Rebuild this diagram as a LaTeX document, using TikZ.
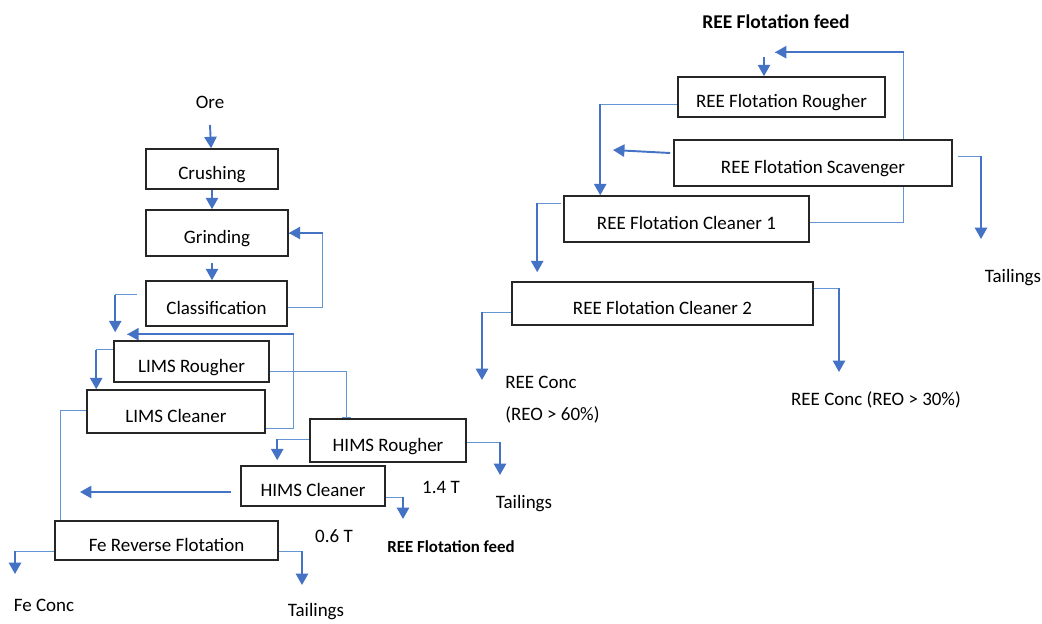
\documentclass[tikz,border=0pt]{standalone}
\usepackage{fontspec}
\setmainfont{Carlito}
\usetikzlibrary{arrows.meta,backgrounds}
\definecolor{flowblue}{RGB}{68,114,196}
\definecolor{leadblue}{RGB}{100,150,212}

\newcommand{\diagfont}{\fontsize{10.8}{13}\selectfont}
% thin lead to the corner, then the thick arrow down to the target
\newcommand{\tapflow}[2]{\draw[lead] (#1) -- (#1 -| #2); \draw[flow] (#1 -| #2) -- (#2);}

\tikzset{
  box/.style 2 args={draw=black!85, line width=0.9pt, fill=white,
    minimum width=#1*0.02cm, minimum height=#2*0.02cm,
    text height=1.2em, text depth=0pt, inner sep=0pt},
  lbl/.style={inner sep=0pt},
  flow/.style={flowblue, line width=1.1pt, -{Triangle[width=7pt,length=6.5pt]}},
  lead/.style={leadblue, line width=0.55pt}
}

\begin{document}
\begin{tikzpicture}[x=0.02cm, y=-0.02cm, font=\diagfont]
    \useasboundingbox (0,0) rectangle (1042,623);

    % Iron circuit
    \node[box={132}{40}] (crush) at (212,169) {Crushing};
    \node[box={142}{46}] (grind) at (217,233) {Grinding};
    \node[box={141}{45}] (classif) at (216.5,303.5) {Classification};
    \node[box={155}{41}] (limsR) at (191.5,361.5) {LIMS Rougher};
    \node[box={178}{43}] (limsC) at (176,411.5) {LIMS Cleaner};
    \node[box={156}{43}] (himsR) at (388,440.5) {HIMS Rougher};
    \node[box={144}{40}] (himsC) at (313,486) {HIMS Cleaner};
    \node[box={223}{39}] (feRev) at (166.5,540.5) {Fe Reverse Flotation};

    % REE circuit
    \node[box={207}{40}] (reeR) at (781.5,97) {REE Flotation Rougher};
    \node[box={278}{46}] (reeS) at (813,163) {REE Flotation Scavenger};
    \node[box={245}{46}] (reeC1) at (686.5,219) {REE Flotation Cleaner 1};
    \node[box={301}{43}] (reeC2) at (662.5,303.5) {REE Flotation Cleaner 2};

    % Streams in and out
    \node[lbl, anchor=base] (ore) at (210,108) {Ore};
    \node[lbl, anchor=base] (feConc) at (44,611) {Fe Conc};
    \node[lbl, anchor=base] (tailFe) at (316,616) {Tailings};
    \node[lbl, anchor=base] (fieldLow) at (334,542) {0.6 T};
    \node[lbl, anchor=base] (fieldHigh) at (441,493) {1.4 T};
    \node[lbl, anchor=base, font=\fontsize{9.6}{11}\selectfont\bfseries] (feedOut) at (451,552) {REE Flotation feed};
    \node[lbl, anchor=base] (tailHims) at (524,508) {Tailings};
    \node[lbl, anchor=base, font=\fontsize{11.1}{13}\selectfont\bfseries] (feedIn) at (776,28) {REE Flotation feed};
    \node[lbl, anchor=base] (tailRee) at (1013,282) {Tailings};
    \node[lbl, anchor=base west] (conc60) at (505,388) {REE Conc};
    \node[lbl, anchor=base west] (conc60b) at (505,420) {(REO > 60\%)};
    \node[lbl, anchor=base] (conc30) at (876,405) {REE Conc (REO > 30\%)};

    % Tap points and arrow ends
    \coordinate (grindOut) at ([yshift=-0.12cm]grind.south);
    \coordinate (clsR) at ([shift={(0,3.5)}]classif.east);
    \coordinate (clsL) at ([shift={(-8,-9)}]classif.west);
    \coordinate (limsRin) at ([shift={(2,-8)}]limsR.north west);
    \coordinate (limsCr) at ([shift={(0,17)}]limsC.east);
    \coordinate (limsRrec) at ([shift={(14,-6)}]limsR.north west);
    \coordinate (limsRl) at ([shift={(0,-12)}]limsR.west);
    \coordinate (limsCin) at ([shift={(10,0)}]limsC.north west);
    \coordinate (limsRr) at ([shift={(0,9.5)}]limsR.east);
    \coordinate (himsRin) at ([shift={(37,0)}]himsR.north west);
    \coordinate (limsCl) at ([shift={(0,-1.5)}]limsC.west);
    \coordinate (feIn) at ([shift={(6,0)}]feRev.north west);
    \coordinate (himsRl) at ([shift={(0,-1.5)}]himsR.west);
    \coordinate (himsCin) at ([shift={(37,-5)}]himsC.north west);
    \coordinate (himsRr) at ([shift={(0,1.5)}]himsR.east);
    \coordinate (tailHimsIn) at ([shift={(-24,-33)}]tailHims.base);
    \coordinate (himsCr) at ([shift={(0,11)}]himsC.east);
    \coordinate (feedOutIn) at ([shift={(-48,-33)}]feedOut.base);
    \coordinate (himsCl) at ([shift={(-9,6)}]himsC.west);
    \coordinate (feMix) at (80,492);
    \coordinate (feL) at ([shift={(0,10.5)}]feRev.west);
    \coordinate (feConcIn) at ([shift={(-29,-37)}]feConc.base);
    \coordinate (feR) at ([shift={(0,10.5)}]feRev.east);
    \coordinate (tailFeIn) at ([shift={(-14,-31)}]tailFe.base);

    \coordinate (reeFeedOut) at ([shift={(-12,29)}]feedIn.base);
    \coordinate (reeC1r) at ([shift={(0,3)}]reeC1.east);
    \coordinate (reeRrec) at ([shift={(-6.5,-24)}]reeR.north);
    \coordinate (reeSr) at ([shift={(5,-7)}]reeS.east);
    \coordinate (tailReeIn) at ([shift={(-32,-43)}]tailRee.base);
    \coordinate (reeSl) at ([shift={(-3,-10)}]reeS.west);
    \coordinate (reeSback) at (613,150);
    \coordinate (reeRl) at ([shift={(0,7)}]reeR.west);
    \coordinate (reeC1in) at ([shift={(37,0)}]reeC1.north west);
    \coordinate (reeC1l) at ([shift={(-2,-16)}]reeC1.west);
    \coordinate (reeC2in) at ([shift={(26,-9)}]reeC2.north west);
    \coordinate (reeC2l) at ([shift={(0,8.5)}]reeC2.west);
    \coordinate (conc60In) at ([shift={(-23,-8)}]conc60.base west);
    \coordinate (reeC2r) at ([shift={(0,-15.5)}]reeC2.east);
    \coordinate (conc30In) at ([shift={(-37,-33)}]conc30.base);

    \begin{scope}[on background layer]
    % Iron circuit streams
    \draw[flow] ([yshift=-0.34cm]ore.base) -- (crush);
    \draw[flow] (crush.south) -- (crush.south |- grind.north);
    \draw[flow] (grindOut -| crush.south) -- (crush.south |- classif.north);
    \draw[lead] (clsR) -- ++(35,0) coordinate (k1) |- (grind.east);
    \draw[flow] (k1 |- grind.east) -- (grind.east);
    \tapflow{clsL}{limsRin}
    \draw[lead] (limsCr) -- ++(28,0) coordinate (k2) |- (limsRrec);
    \draw[flow] (k2 |- limsRrec) -- (limsRrec);
    \tapflow{limsRl}{limsCin}
    \draw[lead, -{Bar[width=5pt]}] (limsRr) -| (himsRin);
    \draw[lead] (limsCl) -| (feIn);
    \tapflow{himsRl}{himsCin}
    \tapflow{himsRr}{tailHimsIn}
    \tapflow{himsCr}{feedOutIn}
    \draw[flow] (himsCl) -- (feMix);
    \tapflow{feL}{feConcIn}
    \tapflow{feR}{tailFeIn}

    % REE circuit streams
    \draw[flow] (reeFeedOut) -- (reeFeedOut |- reeR.north);
    \draw[lead] (reeC1r) -- ++(94,0) coordinate (k3) |- (reeRrec);
    \draw[flow] (k3 |- reeRrec) -- (reeRrec);
    \tapflow{reeSr}{tailReeIn}
    \draw[flow] (reeSl) -- (reeSback);
    \tapflow{reeRl}{reeC1in}
    \tapflow{reeC1l}{reeC2in}
    \tapflow{reeC2l}{conc60In}
    \tapflow{reeC2r}{conc30In}
    \end{scope}
\end{tikzpicture}
\end{document}
